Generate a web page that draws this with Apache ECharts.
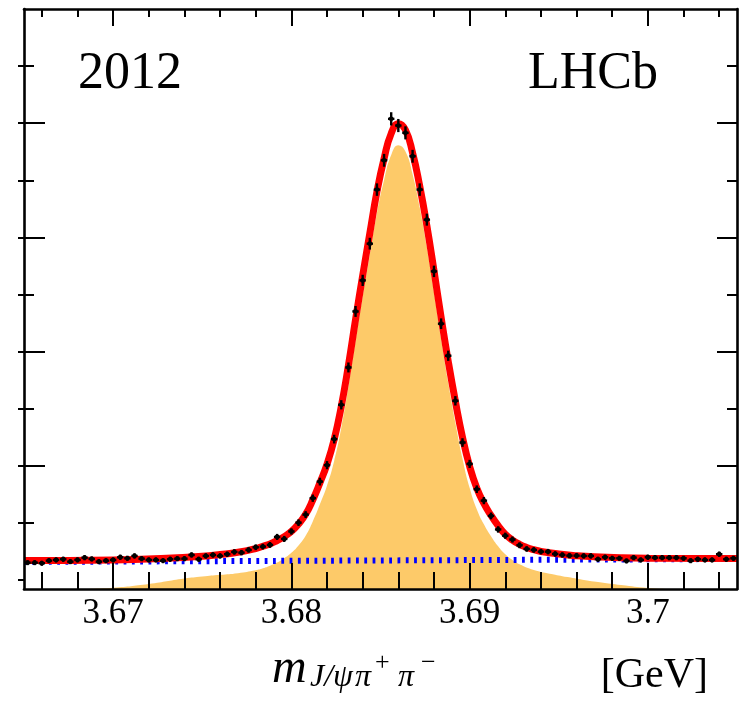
<!DOCTYPE html>
<html><head><meta charset="utf-8">
<script src="https://cdn.jsdelivr.net/npm/echarts@6/dist/echarts.min.js"></script>
<style>html,body{margin:0;padding:0;background:#fff}#c{width:744px;height:716px}</style>
</head><body><div id="c"></div>
<script>
// ---- data ----
const massBins = [
 3.6652,3.6656,3.6660,3.6664,3.6668,3.6672,3.6676,3.6680,3.6684,3.6688,
 3.6692,3.6696,3.6700,3.6704,3.6708,3.6712,3.6716,3.6720,3.6724,3.6728,
 3.6732,3.6736,3.6740,3.6744,3.6748,3.6752,3.6756,3.6760,3.6764,3.6768,
 3.6772,3.6776,3.6780,3.6784,3.6788,3.6792,3.6796,3.6800,3.6804,3.6808,
 3.6812,3.6816,3.6820,3.6824,3.6828,3.6832,3.6836,3.6840,3.6844,3.6848,
 3.6852,3.6856,3.6860,3.6864,3.6868,3.6872,3.6876,3.6880,3.6884,3.6888,
 3.6892,3.6896,3.6900,3.6904,3.6908,3.6912,3.6916,3.6920,3.6924,3.6928,
 3.6932,3.6936,3.6940,3.6944,3.6948,3.6952,3.6956,3.6960,3.6964,3.6968,
 3.6972,3.6976,3.6980,3.6984,3.6988,3.6992,3.6996,3.7000,3.7004,3.7008,
 3.7012,3.7016,3.7020,3.7024,3.7028,3.7032,3.7036,3.7040,3.7044,3.7048];
const counts = [
 303,303,293,338,351,363,321,351,391,368,
 321,338,351,398,380,421,373,351,351,338,
 363,373,373,438,363,421,438,421,451,491,
 479,526,573,584,614,754,719,850,1004,1145,
 1432,1723,2011,2467,3068,3722,4703,5247,5890,6837,
 7350,8076,7959,7831,7421,6837,6311,5405,4488,3927,
 3138,2407,2033,1590,1390,1122,885,775,708,608,
 543,526,496,496,456,438,426,426,421,421,
 363,398,380,380,333,391,351,398,391,391,
 391,391,380,338,363,351,351,451,363,380];
const errors = [
 17,17,17,18,19,19,18,19,20,19,
 18,18,19,20,19,21,19,19,19,18,
 19,19,19,21,19,21,21,21,21,22,
 22,23,24,24,25,27,27,29,32,34,
 38,42,45,50,55,61,69,72,77,83,
 86,90,89,88,86,83,79,74,67,63,
 56,49,45,40,37,33,30,28,27,25,
 23,23,22,22,21,21,21,21,21,21,
 19,20,19,19,18,20,19,20,20,20,
 20,20,19,18,19,19,19,21,19,19];

const fitMass = [3.6650,3.6700,3.6730,3.6750,3.6760,3.6770,3.6780,3.6784,3.6788,3.6792,3.6796,
 3.6800,3.6804,3.6808,3.6812,3.6816,3.6820,3.6824,3.6828,3.6832,3.6836,3.6840,3.6844,3.6848,
 3.6852,3.6856,3.6860,3.6864,3.6868,3.6872,3.6876,3.6880,3.6884,3.6888,3.6892,3.6896,3.6900,
 3.6904,3.6908,3.6912,3.6916,3.6920,3.6924,3.6928,3.6932,3.6936,3.6940,3.6950,3.6960,3.6970,
 3.6985,3.7000,3.7050];
const fitTotal = [342,352,380,415,445,485,550,590,631,690,760,
 850,980,1150,1400,1700,2030,2460,3040,3760,4560,5330,6070,6800,
 7380,7820,7990,7880,7480,6900,6206,5420,4600,3830,3130,2500,1990,
 1610,1340,1130,950,800,700,625,570,530,500,455,425,405,
 388,381,378];

const sigMass = [3.6680,3.6700,3.6720,3.6740,3.6750,3.6760,3.6770,3.6780,3.6784,3.6788,3.6792,3.6796,
 3.6800,3.6804,3.6808,3.6812,3.6816,3.6820,3.6824,3.6828,3.6832,3.6836,3.6840,3.6844,3.6848,
 3.6852,3.6856,3.6860,3.6864,3.6868,3.6872,3.6876,3.6880,3.6884,3.6888,3.6892,3.6896,3.6900,
 3.6904,3.6908,3.6912,3.6916,3.6920,3.6924,3.6928,3.6936,3.6945,3.6955,3.6965,3.6985,3.7000,3.7012];
const sigValues = [-158,-135,-70,25,60,90,120,170,205,250,305,380,
 475,605,775,1025,1325,1655,2085,2665,3385,4185,4955,5695,6425,
 7005,7445,7615,7505,7105,6525,5830,5045,4225,3455,2755,2125,1615,
 1240,975,765,590,450,350,275,175,110,50,-5,-90,-140,-158];

const bkgMass = [3.665, 3.705];
const bkgValues = [316, 368];

const xMajorTicks = [3.67, 3.68, 3.69, 3.70];
const xTickLabels = ['3.67', '3.68', '3.69', '3.7'];
const xMinorTicks = [3.666,3.668,3.672,3.674,3.676,3.678,3.682,3.684,3.686,3.688,3.692,3.694,3.696,3.698,3.702,3.704];
const yMajorTicks = [2000, 4000, 6000, 8000];
const yMinorTicks = [1000, 3000, 5000, 7000, 9000];
const yAllTicks = [0,1000,2000,3000,4000,5000,6000,7000,8000,9000];

// ---- chart ----
const XMIN = 3.665, XMAX = 3.705, YMIN = -158, YMAX = 10000;
const serif = 'Liberation Serif';
function xAx(pos, len, ticks, extra) {
  return Object.assign({
    type: 'value', position: pos, min: XMIN, max: XMAX, z: 10,
    splitLine: {show: false},
    axisLine: {show: false, onZero: false},
    axisTick: {show: true, inside: true, length: len, customValues: ticks, lineStyle: {color: '#000', width: 2}},
    axisLabel: {show: false}
  }, extra || {});
}
function yAx(pos, len, ticks, inside, extra) {
  return Object.assign({
    type: 'value', position: pos, min: YMIN, max: YMAX, z: 10,
    splitLine: {show: false},
    axisLine: {show: false, onZero: false},
    axisTick: {show: true, inside: inside, length: len, customValues: ticks, lineStyle: {color: '#000', width: 2}},
    axisLabel: {show: false}
  }, extra || {});
}
const axisLineStyle = {show: true, onZero: false, lineStyle: {color: '#000', width: 2.6}};

const chart = echarts.init(document.getElementById('c'), null, {renderer: 'canvas'});
chart.setOption({
  animation: false,
  backgroundColor: '#fff',
  grid: {left: 24, top: 9, width: 713, height: 580, containLabel: false},
  xAxis: [
    xAx('bottom', 26, xMajorTicks, {
      axisLine: axisLineStyle,
      axisLabel: {show: true, customValues: xMajorTicks, margin: 7, fontFamily: serif, fontSize: 35, color: '#000',
        formatter: function (v) { const i = xMajorTicks.findIndex(t => Math.abs(t - v) < 1e-7); return i >= 0 ? xTickLabels[i] : ''; }}
    }),
    xAx('bottom', 17, xMinorTicks),
    xAx('top', 17, xMajorTicks, {axisLine: axisLineStyle}),
    xAx('top', 8, xMinorTicks)
  ],
  yAxis: [
    yAx('left', 21, yMajorTicks, true, {axisLine: axisLineStyle}),
    yAx('left', 10, yMinorTicks, true),
    yAx('left', 6, yAllTicks, false),
    yAx('right', 20, yMajorTicks, true, {axisLine: axisLineStyle}),
    yAx('right', 10, yMinorTicks, true)
  ],
  series: [
    {
      name: 'signal', type: 'line', xAxisIndex: 0, yAxisIndex: 0, z: 1,
      data: sigMass.map((m, i) => [m, sigValues[i]]),
      smooth: 0.5, showSymbol: false, symbol: 'none',
      lineStyle: {width: 0},
      areaStyle: {color: '#fdca69', opacity: 1, origin: 'start'}
    },
    {
      name: 'background', type: 'line', xAxisIndex: 0, yAxisIndex: 0, z: 2,
      data: bkgMass.map((m, i) => [m, bkgValues[i]]),
      showSymbol: false, symbol: 'none',
      lineStyle: {color: '#0000ff', width: 6, type: [2.8, 5.5], cap: 'butt'}
    },
    {
      name: 'total', type: 'line', xAxisIndex: 0, yAxisIndex: 0, z: 3,
      data: fitMass.map((m, i) => [m, fitTotal[i]]),
      smooth: 0.5, showSymbol: false, symbol: 'none',
      lineStyle: {color: '#ff0000', width: 7}
    },
    {
      name: 'data', type: 'custom', xAxisIndex: 0, yAxisIndex: 0, z: 4,
      data: massBins.map((m, i) => [m, counts[i], errors[i]]),
      renderItem: function (params, api) {
        const x = api.value(0), y = api.value(1), e = api.value(2);
        const c = api.coord([x, y]);
        const t = api.coord([x, y + e]);
        const b = api.coord([x, y - e]);
        const hw = api.size([0.0004, 0])[0] * 0.45;
        const st = {stroke: '#000', lineWidth: 2.4};
        return {type: 'group', children: [
          {type: 'line', shape: {x1: c[0] - hw, y1: c[1], x2: c[0] + hw, y2: c[1]}, style: st},
          {type: 'line', shape: {x1: c[0], y1: t[1] - 1.5, x2: c[0], y2: b[1] + 1.5}, style: st},
          {type: 'circle', shape: {cx: c[0], cy: c[1], r: 2.4}, style: {fill: '#000'}}
        ]};
      }
    }
  ],
  graphic: [
    {type: 'text', left: 78, top: 48, style: {text: '2012', font: '52px "Liberation Serif"', fill: '#000'}},
    {type: 'text', right: 86, top: 48, style: {text: 'LHCb', font: '52px "Liberation Serif"', fill: '#000'}},
    {type: 'text', left: 272, top: 645, style: {text: 'm', font: 'italic 48px "Liberation Serif"', fill: '#000'}},
    {type: 'text', left: 310, top: 662, style: {text: 'J/ψ', font: 'italic 32px "Liberation Serif"', fill: '#000'}},
    {type: 'text', left: 355, top: 662, style: {text: 'π', font: 'italic 32px "Liberation Serif"', fill: '#000'}},
    {type: 'text', left: 375, top: 650, style: {text: '+', font: '26px "Liberation Serif"', fill: '#000'}},
    {type: 'text', left: 398, top: 662, style: {text: 'π', font: 'italic 32px "Liberation Serif"', fill: '#000'}},
    {type: 'text', left: 421, top: 650, style: {text: '−', font: '26px "Liberation Serif"', fill: '#000'}},
    {type: 'text', right: 36, top: 655, style: {text: '[GeV]', font: '42px "Liberation Serif"', fill: '#000'}}
  ]
});
</script>
</body></html>
